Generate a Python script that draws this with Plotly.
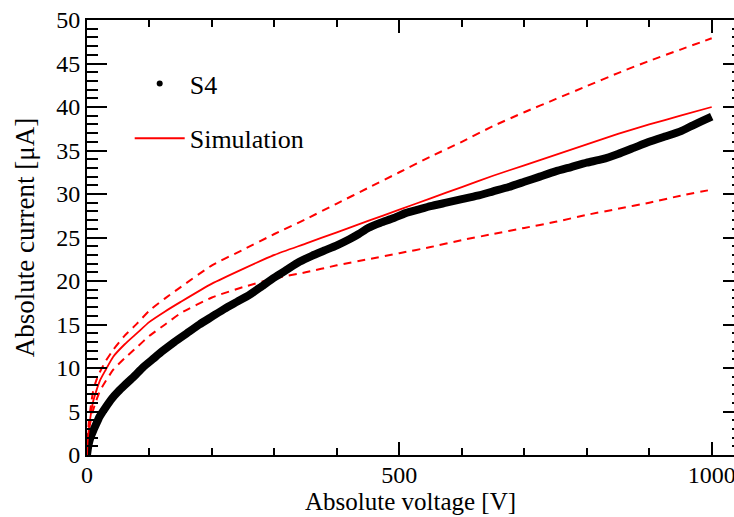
import plotly.graph_objects as go

# Measured S4 (absolute voltage [V], absolute current [uA])
v_meas = [0, 2, 5, 10, 15, 20, 30, 40, 50, 60, 75, 90, 105, 120, 140, 160, 180, 200, 220, 240,
          260, 280, 300, 320, 340, 360, 380, 400, 420, 435, 450, 470, 490, 510, 530, 550, 575,
          600, 625, 650, 675, 700, 725, 750, 775, 800, 825, 850, 875, 900, 925, 950, 970, 985, 1000]
i_meas = [0, 1.0, 1.9, 2.8, 3.6, 4.4, 5.5, 6.5, 7.3, 8.0, 9.0, 10.1, 11.0, 11.9, 13.0, 14.0, 15.0,
          15.9, 16.8, 17.6, 18.4, 19.4, 20.4, 21.3, 22.2, 22.9, 23.5, 24.1, 24.8, 25.4, 26.1, 26.7,
          27.2, 27.8, 28.2, 28.6, 29.0, 29.4, 29.8, 30.3, 30.8, 31.4, 32.0, 32.6, 33.1, 33.6, 34.0,
          34.6, 35.3, 36.0, 36.6, 37.2, 37.9, 38.4, 38.9]

# Simulation (central, upper and lower bounds)
v_sim = [0, 1, 3, 6, 10, 15, 21, 30, 42, 60, 80, 100, 125, 150, 200, 250, 300, 350, 400, 450,
         500, 550, 600, 650, 700, 750, 800, 850, 900, 950, 1000]
i_sim = [0, 1.6, 3.0, 4.6, 6.2, 7.4, 8.6, 9.8, 11.3, 12.7, 14.0, 15.3, 16.5, 17.6, 19.7, 21.4,
         23.0, 24.3, 25.6, 26.9, 28.2, 29.5, 30.8, 32.1, 33.3, 34.5, 35.7, 36.9, 38.0, 39.0, 40.0]
i_sim_hi = [0, 2.0, 3.8, 5.6, 7.4, 8.6, 9.6, 10.8, 12.1, 13.7, 15.1, 16.6, 18.0, 19.3, 21.8, 23.6,
            25.4, 27.1, 28.9, 30.7, 32.5, 34.3, 36.0, 37.8, 39.4, 40.9, 42.4, 43.9, 45.3, 46.6, 47.9]
i_sim_lo = [0, 1.5, 2.8, 4.0, 5.2, 6.3, 7.4, 8.5, 9.8, 11.1, 12.4, 13.7, 15.0, 16.3, 18.1, 19.3,
            20.3, 21.0, 21.8, 22.5, 23.2, 23.9, 24.7, 25.4, 26.1, 26.8, 27.6, 28.3, 29.0, 29.8, 30.5]

FONT = "'Liberation Serif', 'Times New Roman', Times, serif"
RED = "#ff0000"

fig = go.Figure()

fig.add_trace(go.Scatter(x=v_sim, y=i_sim_hi, mode="lines",
                         line=dict(color=RED, width=2, dash="8px,6px", shape="spline", smoothing=0.6),
                         showlegend=False))
fig.add_trace(go.Scatter(x=v_sim, y=i_sim_lo, mode="lines",
                         line=dict(color=RED, width=2, dash="8px,6px", shape="spline", smoothing=0.6),
                         showlegend=False))
fig.add_trace(go.Scatter(x=v_meas, y=i_meas, mode="lines",
                         line=dict(color="black", width=8, shape="spline", smoothing=0.5),
                         showlegend=False))
fig.add_trace(go.Scatter(x=v_sim, y=i_sim, mode="lines",
                         line=dict(color=RED, width=1.8, shape="spline", smoothing=0.6),
                         showlegend=False))

# legend entries
fig.add_trace(go.Scatter(x=[None], y=[None], mode="markers", marker=dict(color="black", size=6),
                         name="S4", legendgroup="a"))
fig.add_trace(go.Scatter(x=[None], y=[None], mode="lines", line=dict(color=RED, width=2),
                         name="Simulation", legendgroup="b"))

# right-side tick marks
fig.add_trace(go.Scatter(x=[None], y=[None], yaxis="y2", showlegend=False))

fig.update_layout(
    width=734, height=517,
    margin=dict(l=87, r=0, t=20, b=62),
    paper_bgcolor="white", plot_bgcolor="white",
    font=dict(family=FONT, color="black", size=24),
    xaxis=dict(
        range=[0, 1035.7], showgrid=False, zeroline=False,
        showline=True, linecolor="black", linewidth=2, mirror="ticks",
        ticks="inside", ticklen=13, tickwidth=2, tickcolor="black",
        tickvals=[0, 500, 1000], ticktext=["0", "500", "1000"],
        tickfont=dict(size=24, family=FONT), ticklabeloverflow="allow",
        ticklabelstandoff=-3,
        minor=dict(ticks="inside", ticklen=7, tickwidth=2, tickcolor="black", dtick=100, showgrid=False),
        title=dict(text="Absolute voltage [V]", font=dict(size=25, family=FONT), standoff=0),
        automargin=False,
    ),
    yaxis=dict(
        range=[0, 50], showgrid=False, zeroline=False,
        showline=True, linecolor="black", linewidth=2, mirror=False,
        ticks="inside", ticklen=20, tickwidth=2, tickcolor="black",
        tickvals=[0, 5, 10, 15, 20, 25, 30, 35, 40, 45, 50],
        tickfont=dict(size=24, family=FONT),
        minor=dict(ticks="inside", ticklen=11, tickwidth=2, tickcolor="black", dtick=1, showgrid=False),
        title=dict(text="Absolute current [μA]", font=dict(size=27, family=FONT), standoff=14),
        automargin=False,
    ),
    yaxis2=dict(
        range=[0, 50], overlaying="y", side="right", showgrid=False, zeroline=False,
        showline=False, showticklabels=False,
        ticks="inside", ticklen=11, tickwidth=2, tickcolor="black", dtick=5,
        minor=dict(ticks="inside", ticklen=2, tickwidth=2, tickcolor="black", dtick=1, showgrid=False),
    ),
    legend=dict(
        x=0.066, y=0.908, xanchor="left", yanchor="top",
        bgcolor="rgba(0,0,0,0)", borderwidth=0,
        font=dict(size=26, family=FONT),
        traceorder="grouped", tracegroupgap=18, itemwidth=50,
    ),
)

fig.write_html("out.html")
